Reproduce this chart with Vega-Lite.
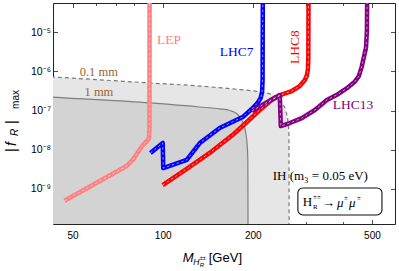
{
  "$schema": "https://vega.github.io/schema/vega-lite/v6.json",
  "width": 342,
  "height": 221,
  "autosize": {"type": "none"},
  "padding": {"left": 53, "top": 3, "right": 4, "bottom": 47},
  "background": "white",
  "config": {
    "view": {"stroke": "#222", "strokeWidth": 1},
    "axis": {"domain": false, "grid": false, "labelFont": "Liberation Sans", "labelFontSize": 10, "labelColor": "#000", "tickColor": "#222", "tickWidth": 0.8}
  },
  "datasets": {
    "r01": [
      {"m": 38, "f": 7.55e-7}, {"m": 43, "f": 7.15e-7}, {"m": 90.5, "f": 5.04e-7}, {"m": 133, "f": 4.2e-7},
      {"m": 171.5, "f": 3.55e-7}, {"m": 210, "f": 3.0e-7}, {"m": 230, "f": 2.6e-7}, {"m": 243, "f": 2.1e-7},
      {"m": 252, "f": 1.5e-7}, {"m": 258, "f": 9.5e-8}, {"m": 262, "f": 5.5e-8}, {"m": 264, "f": 2.5e-8},
      {"m": 264.5, "f": 1e-12}
    ],
    "r1": [
      {"m": 38, "f": 2.35e-7}, {"m": 43, "f": 2.2e-7}, {"m": 90.5, "f": 1.56e-7}, {"m": 133, "f": 1.23e-7},
      {"m": 155, "f": 1.1e-7}, {"m": 167.6, "f": 1.0e-7}, {"m": 176, "f": 8.5e-8}, {"m": 182, "f": 6.5e-8},
      {"m": 186.5, "f": 4.3e-8}, {"m": 189.5, "f": 2.6e-8}, {"m": 191.5, "f": 1.3e-8}, {"m": 192.5, "f": 5e-9},
      {"m": 193, "f": 1e-12}
    ],
    "cur": [
      {"s": "LEP", "i": 1, "m": 47, "f": 5.0e-10},
      {"s": "LEP", "i": 2, "m": 75.8, "f": 3.85e-9},
      {"s": "LEP", "i": 3, "m": 79.5, "f": 5.6e-9},
      {"s": "LEP", "i": 4, "m": 82.5, "f": 8.5e-9},
      {"s": "LEP", "i": 5, "m": 85.7, "f": 1.3e-8},
      {"s": "LEP", "i": 6, "m": 88.5, "f": 1.65e-8},
      {"s": "LEP", "i": 7, "m": 90, "f": 1.95e-8},
      {"s": "LEP", "i": 8, "m": 90.3, "f": 3.5e-8},
      {"s": "LEP", "i": 9, "m": 90.4, "f": 1e-4},
      {"s": "LHC7", "i": 1, "m": 91, "f": 8.3e-9},
      {"s": "LHC7", "i": 2, "m": 100, "f": 1.49e-8},
      {"s": "LHC7", "i": 3, "m": 100.4, "f": 3.4e-9},
      {"s": "LHC7", "i": 4, "m": 120.3, "f": 5.5e-9},
      {"s": "LHC7", "i": 5, "m": 133, "f": 1.48e-8},
      {"s": "LHC7", "i": 6, "m": 155, "f": 3.6e-8},
      {"s": "LHC7", "i": 7, "m": 185, "f": 6.8e-8},
      {"s": "LHC7", "i": 8, "m": 200, "f": 1.16e-7},
      {"s": "LHC7", "i": 9, "m": 208, "f": 1.6e-7},
      {"s": "LHC7", "i": 10, "m": 212.5, "f": 2.1e-7},
      {"s": "LHC7", "i": 11, "m": 214.8, "f": 3.0e-7},
      {"s": "LHC7", "i": 12, "m": 215.6, "f": 6e-7},
      {"s": "LHC7", "i": 13, "m": 216, "f": 1e-4},
      {"s": "LHC8", "i": 1, "m": 100, "f": 1.26e-9},
      {"s": "LHC8", "i": 2, "m": 120.3, "f": 3.24e-9},
      {"s": "LHC8", "i": 3, "m": 143.5, "f": 8.3e-9},
      {"s": "LHC8", "i": 4, "m": 171.5, "f": 2.4e-8},
      {"s": "LHC8", "i": 5, "m": 191, "f": 5.1e-8},
      {"s": "LHC8", "i": 6, "m": 211, "f": 1.03e-7},
      {"s": "LHC8", "i": 7, "m": 231, "f": 1.85e-7},
      {"s": "LHC8", "i": 8, "m": 252, "f": 2.63e-7},
      {"s": "LHC8", "i": 9, "m": 270, "f": 3.14e-7},
      {"s": "LHC8", "i": 10, "m": 287, "f": 4.2e-7},
      {"s": "LHC8", "i": 11, "m": 298.5, "f": 6.0e-7},
      {"s": "LHC8", "i": 12, "m": 303, "f": 7.8e-7},
      {"s": "LHC8", "i": 13, "m": 305.5, "f": 1.1e-6},
      {"s": "LHC8", "i": 14, "m": 306.5, "f": 2.2e-6},
      {"s": "LHC8", "i": 15, "m": 307, "f": 1e-4},
      {"s": "LHC13", "i": 1, "m": 198.5, "f": 9.7e-8},
      {"s": "LHC13", "i": 2, "m": 246, "f": 2.48e-7},
      {"s": "LHC13", "i": 3, "m": 248, "f": 4.0e-8},
      {"s": "LHC13", "i": 4, "m": 265.9, "f": 4.8e-8},
      {"s": "LHC13", "i": 5, "m": 291.6, "f": 6.4e-8},
      {"s": "LHC13", "i": 6, "m": 322.4, "f": 1.03e-7},
      {"s": "LHC13", "i": 7, "m": 353.6, "f": 1.85e-7},
      {"s": "LHC13", "i": 8, "m": 385, "f": 2.6e-7},
      {"s": "LHC13", "i": 9, "m": 412.5, "f": 3.7e-7},
      {"s": "LHC13", "i": 10, "m": 437, "f": 5.3e-7},
      {"s": "LHC13", "i": 11, "m": 452, "f": 7.5e-7},
      {"s": "LHC13", "i": 12, "m": 462, "f": 1.3e-6},
      {"s": "LHC13", "i": 13, "m": 470, "f": 2.3e-6},
      {"s": "LHC13", "i": 14, "m": 477.6, "f": 4e-6},
      {"s": "LHC13", "i": 15, "m": 481, "f": 1.1e-5},
      {"s": "LHC13", "i": 16, "m": 482, "f": 1e-4}
    ],
    "box": [{"m": 282.8, "m2": 540, "f": 2.18e-10, "f2": 1.06e-9}],
    "txt": [
      {"g": "lep", "t": "LEP", "m": 95.7, "f": 6.25e-6},
      {"g": "l7", "t": "LHC7", "m": 155, "f": 3.1e-6},
      {"g": "l8", "t": "LHC8", "m": 276, "f": 4.15e-6},
      {"g": "l13", "t": "LHC13", "m": 370, "f": 1.38e-7},
      {"g": "mm", "t": "0.1 mm", "m": 52.8, "f": 9.8e-7},
      {"g": "mm", "t": "1 mm", "m": 54.8, "f": 3.05e-7},
      {"g": "blk", "t": "IH (m₃ = 0.05 eV)", "m": 233, "f": 2.14e-9},
      {"g": "blk", "t": "H", "m": 293.9, "f": 4.53e-10},
      {"g": "blk", "t": "→", "m": 340.3, "f": 4.4e-10},
      {"g": "mu", "t": "μ", "m": 382, "f": 4.4e-10},
      {"g": "mu", "t": "μ", "m": 418.8, "f": 4.4e-10},
      {"g": "sm", "t": "±±", "m": 317.8, "f": 6.3e-10},
      {"g": "sm", "t": "R", "m": 317.8, "f": 3.4e-10},
      {"g": "sm", "t": "±", "m": 403, "f": 5.8e-10},
      {"g": "sm", "t": "±", "m": 445.6, "f": 5.8e-10},
      {"g": "xt", "t": "[GeV]", "m": 142.5, "f": 1.75e-11},
      {"g": "xtM", "t": "M", "m": 116.7, "f": 1.75e-11},
      {"g": "xtH", "t": "H", "m": 126.5, "f": 1.34e-11},
      {"g": "xtpm", "t": "±±", "m": 133, "f": 1.75e-11},
      {"g": "xtR", "t": "R", "m": 133, "f": 1.18e-11},
      {"g": "yt", "t": "|", "m": 31.3, "f": 8.77e-9},
      {"g": "yt", "t": "|", "m": 31.3, "f": 4.53e-8},
      {"g": "ytf", "t": "f", "m": 31.3, "f": 1.25e-8},
      {"g": "ytR", "t": "R", "m": 32.0, "f": 2.24e-8},
      {"g": "ytmax", "t": "max", "m": 32.3, "f": 1.1e-7}
    ]
  },
  "encoding": {
    "x": {"field": "m", "type": "quantitative", "scale": {"type": "log", "domain": [43, 597], "nice": false}, "axis": null},
    "y": {"field": "f", "type": "quantitative", "scale": {"type": "log", "domain": [1.28e-10, 5.5e-5], "nice": false}, "axis": null}
  },
  "resolve": {"axis": {"x": "independent", "y": "independent"}},
  "layer": [
    {
      "data": {"name": "r01"},
      "mark": {"type": "area", "color": "#e6e6e6", "clip": true, "interpolate": "monotone"},
      "encoding": {
        "x": {"field": "m", "type": "quantitative", "scale": {"type": "log", "domain": [43, 597], "nice": false},
          "axis": {"orient": "bottom", "title": null, "values": [50, 60, 70, 80, 90, 100, 200, 300, 400, 500],
            "labelExpr": "indexof([50,100,200,500], datum.value) >= 0 ? format(datum.value, 'd') : ''",
            "tickSize": {"condition": {"test": "indexof([50,100,200,500], datum.value) >= 0", "value": -4.5}, "value": -2.5},
            "labelPadding": 11, "labelOverlap": false}},
        "y": {"field": "f", "type": "quantitative", "scale": {"type": "log", "domain": [1.28e-10, 5.5e-5], "nice": false},
          "axis": {"orient": "left", "title": null, "values": [1e-9, 1e-8, 1e-7, 1e-6, 1e-5], "labelFontSize": 10.5,
            "labelExpr": "'10⁻' + ['⁰','¹','²','³','⁴','⁵','⁶','⁷','⁸','⁹'][round(-log(datum.value)/LN10)]",
            "tickSize": -4.5, "labelPadding": 7, "labelOverlap": false}},
        "y2": {"datum": 1e-12}
      }
    },
    {
      "data": {"name": "r1"},
      "mark": {"type": "area", "color": "#d3d3d3", "clip": true, "interpolate": "monotone"},
      "encoding": {
        "x": {"field": "m", "type": "quantitative", "scale": {"type": "log", "domain": [43, 597], "nice": false},
          "axis": {"orient": "top", "title": null, "labels": false, "values": [50, 60, 70, 80, 90, 100, 200, 300, 400, 500],
            "tickSize": {"condition": {"test": "indexof([50,100,200,500], datum.value) >= 0", "value": -4.5}, "value": -2.5}}},
        "y": {"field": "f", "type": "quantitative", "scale": {"type": "log", "domain": [1.28e-10, 5.5e-5], "nice": false},
          "axis": {"orient": "right", "title": null, "labels": false, "values": [1e-9, 1e-8, 1e-7, 1e-6, 1e-5], "tickSize": -4.5}},
        "y2": {"datum": 1e-12}
      }
    },
    {
      "data": {"name": "r01"},
      "mark": {"type": "line", "color": "#7a7a7a", "strokeDash": [4, 3], "strokeWidth": 1.2, "clip": true, "interpolate": "monotone"},
      "encoding": {}
    },
    {
      "data": {"name": "r1"},
      "mark": {"type": "line", "color": "#7f7f7f", "strokeWidth": 1.2, "clip": true, "interpolate": "monotone"},
      "encoding": {}
    },
    {
      "data": {"name": "cur"},
      "mark": {"type": "line", "clip": true, "interpolate": "linear", "strokeJoin": "round"},
      "encoding": {
        "color": {"field": "s", "type": "nominal", "scale": {"domain": ["LEP", "LHC7", "LHC8", "LHC13"], "range": ["#ff8080", "#0000ff", "#ff0000", "#800080"]}, "legend": null},
        "strokeWidth": {"field": "s", "type": "nominal", "scale": {"domain": ["LEP", "LHC7", "LHC8", "LHC13"], "range": [4.5, 4.5, 4, 3]}, "legend": null},
        "order": {"field": "i", "type": "quantitative"}
      }
    },
    {
      "data": {"name": "cur"},
      "mark": {"type": "line", "clip": true, "interpolate": "linear", "strokeJoin": "round", "color": "white", "strokeWidth": 0.8, "strokeDash": [2.5, 2.5], "opacity": 0.7},
      "encoding": {
        "detail": {"field": "s", "type": "nominal"},
        "order": {"field": "i", "type": "quantitative"}
      }
    },
    {
      "data": {"name": "box"},
      "mark": {"type": "rect", "fill": "white", "stroke": "#111", "strokeWidth": 1.1, "cornerRadius": 5},
      "encoding": {"x2": {"field": "m2"}, "y2": {"field": "f2"}}
    },
    {
      "data": {"name": "txt"}, "transform": [{"filter": "datum.g === 'lep'"}],
      "mark": {"type": "text", "font": "Liberation Serif", "fontSize": 13.5, "color": "#ff8080", "align": "left", "baseline": "middle"},
      "encoding": {"text": {"field": "t"}}
    },
    {
      "data": {"name": "txt"}, "transform": [{"filter": "datum.g === 'l7'"}],
      "mark": {"type": "text", "font": "Liberation Serif", "fontSize": 13.5, "color": "#0000ff", "align": "left", "baseline": "middle"},
      "encoding": {"text": {"field": "t"}}
    },
    {
      "data": {"name": "txt"}, "transform": [{"filter": "datum.g === 'l8'"}],
      "mark": {"type": "text", "font": "Liberation Serif", "fontSize": 13.5, "color": "#ff0000", "align": "center", "baseline": "middle", "angle": 270},
      "encoding": {"text": {"field": "t"}}
    },
    {
      "data": {"name": "txt"}, "transform": [{"filter": "datum.g === 'l13'"}],
      "mark": {"type": "text", "font": "Liberation Serif", "fontSize": 13.5, "color": "#800080", "align": "left", "baseline": "middle"},
      "encoding": {"text": {"field": "t"}}
    },
    {
      "data": {"name": "txt"}, "transform": [{"filter": "datum.g === 'mm'"}],
      "mark": {"type": "text", "font": "Liberation Serif", "fontSize": 12.5, "color": "#996633", "align": "left", "baseline": "middle"},
      "encoding": {"text": {"field": "t"}}
    },
    {
      "data": {"name": "txt"}, "transform": [{"filter": "datum.g === 'blk'"}],
      "mark": {"type": "text", "font": "Liberation Serif", "fontSize": 13, "color": "#000", "align": "left", "baseline": "middle"},
      "encoding": {"text": {"field": "t"}}
    },
    {
      "data": {"name": "txt"}, "transform": [{"filter": "datum.g === 'mu'"}],
      "mark": {"type": "text", "font": "Liberation Serif", "fontSize": 13, "fontStyle": "italic", "color": "#000", "align": "left", "baseline": "middle"},
      "encoding": {"text": {"field": "t"}}
    },
    {
      "data": {"name": "txt"}, "transform": [{"filter": "datum.g === 'sm'"}],
      "mark": {"type": "text", "font": "Liberation Serif", "fontSize": 7, "color": "#000", "align": "left", "baseline": "middle"},
      "encoding": {"text": {"field": "t"}}
    },
    {
      "data": {"name": "txt"}, "transform": [{"filter": "datum.g === 'xt'"}],
      "mark": {"type": "text", "font": "Liberation Sans", "fontSize": 13, "color": "#000", "align": "left", "baseline": "middle"},
      "encoding": {"text": {"field": "t"}}
    },
    {
      "data": {"name": "txt"}, "transform": [{"filter": "datum.g === 'xtM'"}],
      "mark": {"type": "text", "font": "Liberation Sans", "fontSize": 13, "fontStyle": "italic", "color": "#000", "align": "left", "baseline": "middle"},
      "encoding": {"text": {"field": "t"}}
    },
    {
      "data": {"name": "txt"}, "transform": [{"filter": "datum.g === 'xtH'"}],
      "mark": {"type": "text", "font": "Liberation Sans", "fontSize": 8.5, "fontStyle": "italic", "color": "#000", "align": "left", "baseline": "middle"},
      "encoding": {"text": {"field": "t"}}
    },
    {
      "data": {"name": "txt"}, "transform": [{"filter": "datum.g === 'xtpm'"}],
      "mark": {"type": "text", "font": "Liberation Sans", "fontSize": 5.5, "color": "#000", "align": "left", "baseline": "middle"},
      "encoding": {"text": {"field": "t"}}
    },
    {
      "data": {"name": "txt"}, "transform": [{"filter": "datum.g === 'xtR'"}],
      "mark": {"type": "text", "font": "Liberation Sans", "fontSize": 6, "fontStyle": "italic", "color": "#000", "align": "left", "baseline": "middle"},
      "encoding": {"text": {"field": "t"}}
    },
    {
      "data": {"name": "txt"}, "transform": [{"filter": "datum.g === 'yt'"}],
      "mark": {"type": "text", "font": "Liberation Sans", "fontSize": 14, "color": "#000", "align": "left", "baseline": "middle", "angle": 270},
      "encoding": {"text": {"field": "t"}}
    },
    {
      "data": {"name": "txt"}, "transform": [{"filter": "datum.g === 'ytf'"}],
      "mark": {"type": "text", "font": "Liberation Sans", "fontSize": 14, "fontStyle": "italic", "color": "#000", "align": "left", "baseline": "middle", "angle": 270},
      "encoding": {"text": {"field": "t"}}
    },
    {
      "data": {"name": "txt"}, "transform": [{"filter": "datum.g === 'ytR'"}],
      "mark": {"type": "text", "font": "Liberation Sans", "fontSize": 10, "fontStyle": "italic", "color": "#000", "align": "left", "baseline": "middle", "angle": 270},
      "encoding": {"text": {"field": "t"}}
    },
    {
      "data": {"name": "txt"}, "transform": [{"filter": "datum.g === 'ytmax'"}],
      "mark": {"type": "text", "font": "Liberation Sans", "fontSize": 10, "color": "#000", "align": "left", "baseline": "middle", "angle": 270},
      "encoding": {"text": {"field": "t"}}
    }
  ]
}
